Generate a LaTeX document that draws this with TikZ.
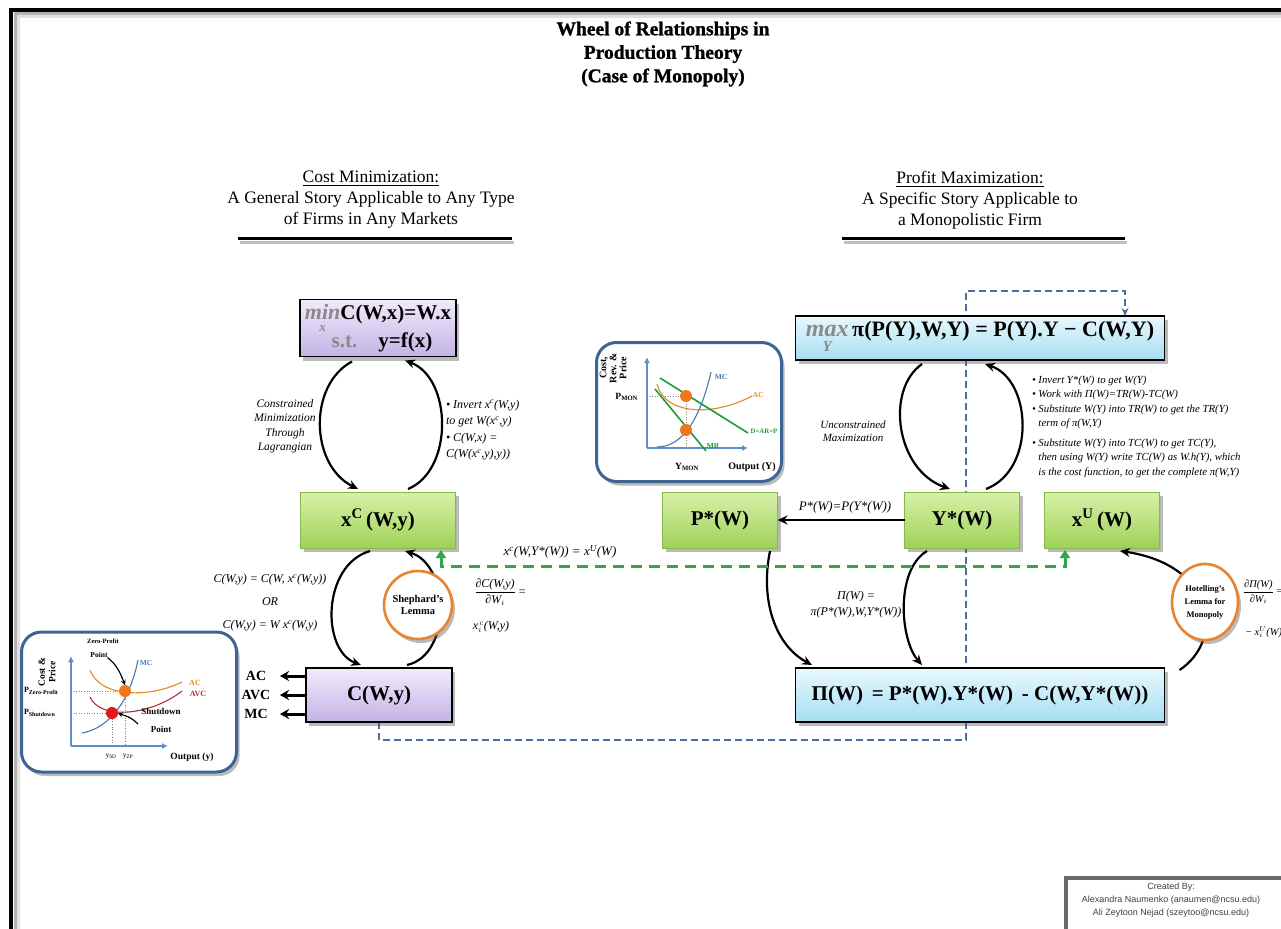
\RequirePackage{fix-cm}
\documentclass[tikz,border=0pt]{standalone}
\usepackage{amsmath}
\usepackage{fontspec}
\setmainfont{Liberation Serif}
\newfontfamily\credfont{Liberation Sans}
\newfontfamily\titlefont[FakeBold=1.2]{Liberation Serif}
\usetikzlibrary{arrows.meta,shadows,calc,shapes.geometric}
\pgfdeclarelayer{back}
\pgfsetlayers{back,main}

\definecolor{boxpurpleA}{HTML}{F1EBFB}
\definecolor{boxpurpleB}{HTML}{C4B2E6}
\definecolor{boxgreenA}{HTML}{D8F1AA}
\definecolor{boxgreenB}{HTML}{9DD258}
\definecolor{boxgreenE}{HTML}{86B94A}
\definecolor{boxcyanA}{HTML}{E8F8FD}
\definecolor{boxcyanB}{HTML}{A6DEF3}
\definecolor{framblue}{HTML}{3D6594}
\definecolor{axisblue}{HTML}{5E8FC6}
\definecolor{dashblue}{HTML}{4B6F9D}
\definecolor{dashgreen}{HTML}{2FA84B}
\definecolor{lemmaorange}{HTML}{E8842F}
\definecolor{curveorange}{HTML}{E08A2C}
\definecolor{curvegreen}{HTML}{1F9A3C}
\definecolor{curveblue}{HTML}{4A78B0}
\definecolor{curvered}{HTML}{A8343A}
\definecolor{dotorange}{HTML}{F0781C}
\definecolor{dotred}{HTML}{E8141A}
\definecolor{textgray}{HTML}{8A8A8A}
\definecolor{credgray}{HTML}{6A6A6A}

\newcommand\fsz[2]{\fontsize{#1}{#2}\selectfont}
\newcommand\sps[1]{\textsuperscript{#1}}
\newcommand\sbs[1]{\textsubscript{#1}}

\tikzset{
  every node/.style={inner sep=0pt, outer sep=0pt},
  boxshadow/.style={drop shadow={shadow xshift=3pt, shadow yshift=-4pt, opacity=.45, fill=black!60}},
  eqbox/.style={draw=black, line width=1.6pt, align=center, boxshadow, font=\bfseries\fsz{21}{24}},
  purplebox/.style={eqbox, top color=boxpurpleA, bottom color=boxpurpleB},
  greenbox/.style={eqbox, draw=boxgreenE, line width=1pt, top color=boxgreenA, bottom color=boxgreenB, minimum width=115pt, minimum height=56pt},
  cyanbox/.style={eqbox, top color=boxcyanA, bottom color=boxcyanB, minimum width=369pt},
  flow/.style={line width=2.2pt, -{Stealth[length=10pt,width=9pt]}},
  stub/.style={line width=3pt, -{Stealth[length=9pt,width=10pt]}},
  lemma/.style={circle, draw=lemmaorange, line width=2.6pt, fill=white, align=center, boxshadow},
  note/.style={font=\itshape\fsz{12}{15}, align=center},
  chartframe/.style={draw=framblue, line width=3pt, rounded corners=20pt, fill=white, boxshadow},
  axis/.style={draw=axisblue, line width=1.6pt, -{Latex[length=6pt,width=6pt]}},
  guide/.style={draw=gray, line width=.6pt, dotted},
  bluedash/.style={draw=dashblue, line width=1.6pt, dash pattern=on 7pt off 4pt},
  greendash/.style={draw=dashgreen, line width=3pt, dash pattern=on 11pt off 7pt},
  dot/.style={circle, minimum size=12pt},
}

\begin{document}
\begin{tikzpicture}[x=1pt, y=-1pt]
\useasboundingbox (0,0) rectangle (1281,928);

% page frame (top and left rules with a soft shadow)
\draw[line width=3pt, black!12] (18,935) -- (18,17) -- (1290,17);
\draw[line width=3pt, black!30] (15,935) -- (15,14) -- (1290,14);
\draw[line width=4pt, black] (11,935) -- (11,10) -- (1290,10);

% title and section headers
\node[font=\titlefont\bfseries\fsz{19.5}{23.5}, align=center] (title) at (663,54)
  {Wheel of Relationships in\\Production Theory\\(Case of Monopoly)};
\node[font=\fsz{17.5}{21}, align=center] (lhead) at (371,200)
  {\underline{Cost Minimization:}\\A General Story Applicable to Any Type\\of Firms in Any Markets};
\node[font=\fsz{17.5}{21}, align=center] (rhead) at (970,200)
  {\underline{Profit Maximization:}\\A Specific Story Applicable to\\a Monopolistic Firm};
\draw[line width=3pt, black!25] (240,242) -- (514,242);
\draw[line width=3pt] (238,238) -- (512,238);
\draw[line width=3pt, black!25] (844,242) -- (1127,242);
\draw[line width=3pt] (842,238) -- (1125,238);

% ---------------- cost minimisation side ----------------
\node[purplebox, minimum width=156pt, minimum height=57pt] (cmin) at (378,328)
  {{\color{textgray}\itshape\fsz{22}{24}$\mathop{\text{min}}\limits_{\text{\fsz{13}{13}x}}$}C(W,x)=W.x\\[-2pt]
   \hspace*{8pt}{\color{textgray}s.t.}\quad y=f(x)};
\node[greenbox, minimum width=155pt] (xc) at (378,520) {x\sps{C}\,(W,y)};
\node[purplebox, minimum width=146pt, minimum height=54pt] (cw) at (379,695) {C(W,y)};

% ---------------- profit maximisation side ----------------
\node[cyanbox, minimum height=44pt, font=\bfseries\fsz{22}{24}] (pmax) at (980,338)
  {{\color{textgray}\itshape\fsz{24}{24}$\mathop{\text{max}}\limits_{\text{\fsz{15}{15}Y}}$}\,π(P(Y),W,Y) = P(Y).Y − C(W,Y)};
\node[greenbox] (ps) at (720,520) {P*(W)};
\node[greenbox] (ys) at (962,520) {Y*(W)};
\node[greenbox] (xu) at (1102,520) {x\sps{U}\,(W)};
\node[cyanbox, minimum height=54pt] (pw) at (980,695) {Π(W) \,= P*(W).Y*(W) \,- C(W,Y*(W))};

% dashed link from the cost function to the profit problem
\coordinate (dlow) at (966,740);
\coordinate (dhigh) at (966,291);
\begin{pgfonlayer}{back}
\draw[bluedash, -{Stealth[length=8pt,width=7pt]}] (cw.south) |- (dlow) -- (dhigh) -| ([xshift=145pt]pmax.north);
\end{pgfonlayer}

% wheel arrows, cost side
\draw[flow] ([xshift=-26pt,yshift=-5pt]cmin.south) .. controls (308,385) and (310,465) .. ([xshift=-20pt,yshift=3pt]xc.north);
\draw[flow] ([xshift=30pt,yshift=3pt]xc.north) .. controls (454,470) and (452,378) .. ([xshift=27pt,yshift=-4pt]cmin.south);
\draw[flow] ([xshift=-8pt,yshift=-3pt]xc.south) .. controls (322,565) and (321,650) .. ([xshift=-18pt,yshift=3pt]cw.north);
\draw[flow] ([xshift=28pt,yshift=3pt]cw.north) .. controls (452,655) and (450,565) .. ([xshift=27pt,yshift=-3pt]xc.south);

% wheel arrows, profit side
\draw[flow] ([xshift=-58pt,yshift=-4pt]pmax.south) .. controls (885,390) and (896,470) .. ([xshift=-12pt,yshift=3pt]ys.north);
\draw[flow] ([xshift=24pt,yshift=3pt]ys.north) .. controls (1036,470) and (1032,380) .. ([xshift=5pt,yshift=-4pt]pmax.south);
\draw[flow] ([xshift=50pt,yshift=-3pt]ps.south) .. controls (760,600) and (775,645) .. ([xshift=-168pt,yshift=3pt]pw.north);
\draw[flow] ([xshift=-35pt,yshift=-3pt]ys.south) .. controls (895,570) and (900,640) .. ([xshift=-58pt,yshift=3pt]pw.north);
\draw[flow] ([xshift=15pt,yshift=-2pt]pw.north east) .. controls (1225,640) and (1215,565) .. ([xshift=18pt,yshift=-3pt]xu.south);
\draw[flow, line width=1.8pt] (ys.west) -- (ps.east);

% lemma badges
\node[lemma, minimum size=68pt, font=\bfseries\fsz{10.5}{12.5}] (shep) at (418,605) {Shephard's\\Lemma};
\node[lemma, ellipse, minimum width=66pt, minimum height=76pt, font=\bfseries\fsz{8.5}{13}] (hot) at (1205,602) {Hotelling's\\Lemma for\\Monopoly};

% input-demand link
\coordinate (gturn) at (700,566);
\draw[greendash, {Triangle[length=8pt,width=10pt]}-{Triangle[length=8pt,width=10pt]}] ([xshift=63pt,yshift=-2pt]xc.south) |- (gturn) -| ([xshift=-37pt,yshift=-2pt]xu.south);

% cost curves derived from C(W,y)
\node[font=\bfseries\fsz{14}{16}] (lac) at (256,676) {AC};
\node[font=\bfseries\fsz{14}{16}] (lavc) at (256,695) {AVC};
\node[font=\bfseries\fsz{14}{16}] (lmc) at (256,714) {MC};
\coordinate (stubend) at (280,0);
\draw[stub] (cw.west |- lac) -- (stubend |- lac);
\draw[stub] (cw.west |- lavc) -- (stubend |- lavc);
\draw[stub] (cw.west |- lmc) -- (stubend |- lmc);

% annotations
\node[note, font=\itshape\fsz{11.5}{14.5}] (lagr) at (285,426) {Constrained\\Minimization\\Through\\Lagrangian};
\node[note, align=left, anchor=west, font=\itshape\fsz{12}{16.5}] (invx) at (446,430)
  {• Invert x\sps{c}(W,y)\\to get W(x\sps{c},y)\\• C(W,x) =\\C(W(x\sps{c},y),y))};
\node[note, font=\itshape\fsz{12}{23}] (cdef) at (270,603)
  {C(W,y) = C(W, x\sps{c}(W,y))\\OR\\C(W,y) = W x\sps{c}(W,y)};
\node[font=\fsz{12}{14}] (shepfrac) at (500,592)
  {$\dfrac{\text{\itshape ∂C(W,y)}}{\text{\itshape ∂W}_i}$ =};
\node[font=\itshape\fsz{12}{14}] (shepx) at (491,627) {x$_i^{\,c}$(W,y)};
\node[note, font=\itshape\fsz{13}{15}] (xlink) at (560,552) {x\sps{c}(W,Y*(W)) = x\sps{U}(W)};
\node[note, font=\itshape\fsz{13}{15}] (plink) at (845,507) {P*(W)=P(Y*(W))};
\node[note, font=\itshape\fsz{11}{13}] (uncon) at (853,431) {Unconstrained\\Maximization};
\node[note, font=\itshape\fsz{12}{16}] (pidef) at (856,605) {Π(W) =\\π(P*(W),W,Y*(W))};
\node[font=\fsz{10.5}{12}, anchor=west] (hotfrac) at (1243,592)
  {$\dfrac{\text{\itshape ∂Π(W)}}{\text{\itshape ∂W}_i}$ =};
\node[font=\itshape\fsz{10.5}{12}, anchor=west] (hotx) at (1245,632) {− x$_i^{U}$(W)};
\node[anchor=north west, align=left, font=\itshape\fsz{10.8}{14.5}] (plist) at (1032,376)
  {• Invert Y*(W) to get W(Y)\\
   • Work with Π(W)=TR(W)-TC(W)\\
   • Substitute W(Y) into TR(W) to get the TR(Y)\\
   \hphantom{• }term of π(W,Y)\\[5pt]
   • Substitute W(Y) into TC(W) to get TC(Y),\\
   \hphantom{• }then using W(Y) write TC(W) as W.h(Y), which\\
   \hphantom{• }is the cost function, to get the complete π(W,Y)};

% ---------------- monopoly diagram ----------------
\node[chartframe, minimum width=185pt, minimum height=139pt] (mchart) at (689,412) {};
\draw[guide] (647,396) -- (686,396) -- (686,448);
\draw[axis] (647,448) -- (647,357);
\draw[axis] (647,448) -- (748,448);
\draw[curveblue, line width=1.1pt] (657,447) .. controls (682,447) and (700,420) .. (711,372);
\draw[curveorange, line width=1.1pt] (657,384) .. controls (665,416) and (715,416) .. (752,396);
\draw[curvegreen, line width=1.6pt] (660,378) -- (748,433);
\draw[curvegreen, line width=1.6pt] (655,389) -- (706,451);
\node[dot, fill=dotorange] (mpt) at (686,396) {};
\node[dot, fill=dotorange] (mrpt) at (686,430) {};
\node[font=\bfseries\fsz{7.5}{8}, text=curveblue] (mclab) at (721,377) {MC};
\node[font=\bfseries\fsz{7.5}{8}, text=curveorange] (aclab) at (758,395) {AC};
\node[font=\bfseries\fsz{6.8}{8}, text=curvegreen] (dlab) at (764,431) {D=AR=P};
\node[font=\bfseries\fsz{7.5}{8}, text=curvegreen] (mrlab) at (713,446) {MR};
\node[font=\bfseries\fsz{9.5}{10}, anchor=east] (pmon) at (638,397) {P\sbs{MON}};
\node[font=\bfseries\fsz{9.5}{10}] (ymon) at (687,467) {Y\sbs{MON}};
\node[font=\bfseries\fsz{10}{11}] (outY) at (752,467) {Output (Y)};
\node[font=\bfseries\fsz{10}{10}, align=center, rotate=90] (crp) at (613,368) {Cost,\\Rev. \&\\Price};

% ---------------- shutdown diagram ----------------
\node[chartframe, minimum width=215pt, minimum height=140pt] (lchart) at (129,702) {};
\draw[guide] (71,691) -- (125,691) -- (125,746);
\draw[guide] (71,713) -- (112,713) -- (112,746);
\draw[axis] (71,746) -- (71,656);
\draw[axis] (71,746) -- (168,746);
\draw[curveblue, line width=1.1pt] (82,733) .. controls (110,728) and (130,700) .. (138,660);
\draw[curveorange, line width=1.1pt] (90,670) .. controls (100,698) and (150,698) .. (182,682);
\draw[curvered, line width=1.1pt] (90,697) .. controls (100,720) and (150,716) .. (182,691);
\node[dot, fill=dotorange] (zpt) at (125,691) {};
\node[dot, fill=dotred] (spt) at (112,713) {};
\node[font=\bfseries\fsz{6.5}{7}] (zplab) at (103,641) {Zero-Profit};
\node[font=\bfseries\fsz{7.5}{8}] (zppt) at (99,655) {Point};
\draw[line width=1.2pt, -{Stealth[length=5pt,width=5pt]}] (zppt.south east) .. controls (116,664) and (120,672) .. (zpt.north);
\node[font=\bfseries\fsz{9}{10}] (sdlab) at (161,711) {Shutdown};
\node[font=\bfseries\fsz{9}{10}] (sdpt) at (161,729) {Point};
\draw[line width=1.2pt, -{Stealth[length=5pt,width=5pt]}] (138,724) .. controls (130,716) and (125,716) .. (spt.east);
\node[font=\bfseries\fsz{7.5}{8}, text=curveblue] (lmclab) at (146,663) {MC};
\node[font=\bfseries\fsz{8}{9}, text=curveorange] (laclab) at (195,683) {AC};
\node[font=\bfseries\fsz{8}{9}, text=curvered] (lavclab) at (198,694) {AVC};
\node[font=\bfseries\fsz{8}{9}, anchor=west] (pzp) at (24,691) {P\sbs{Zero-Profit}};
\node[font=\bfseries\fsz{8}{9}, anchor=west] (psd) at (24,713) {P\sbs{Shutdown}};
\node[font=\fsz{7.5}{8}] (ysd) at (111,757) {y\sbs{SD}};
\node[font=\fsz{7.5}{8}] (yzp) at (128,757) {y\sbs{ZP}};
\node[font=\bfseries\fsz{9.5}{10}] (outy) at (192,757) {Output (y)};
\node[font=\bfseries\fsz{9.5}{10.5}, align=center, rotate=90] (cp) at (47,672) {Cost \&\\Price};

% ---------------- credits ----------------
\node[draw=credgray, line width=3.5pt, fill=white, minimum width=230pt, minimum height=64pt, anchor=north west] (cred) at (1066,878) {};
\node[font=\credfont\fsz{9}{13}, text=black!75, align=center] (credtxt) at (1171,900)
  {Created By:\\Alexandra Naumenko (anaumen@ncsu.edu)\\Ali Zeytoon Nejad (szeytoo@ncsu.edu)};
\end{tikzpicture}
\end{document}
